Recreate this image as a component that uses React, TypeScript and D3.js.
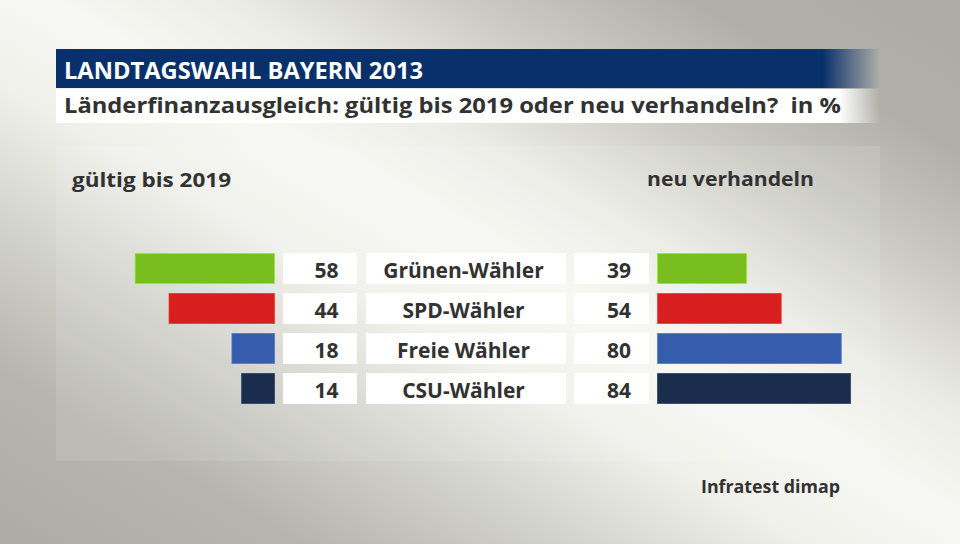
import React from "react";
import * as d3 from "d3";

const categories = ["Grünen-Wähler", "SPD-Wähler", "Freie Wähler", "CSU-Wähler"];
const gueltigValues = [58, 44, 18, 14];
const neuValues = [39, 54, 80, 84];
const barColors = ["#78be1e", "#d81f20", "#365cad", "#1a2d4c"];
const titleText = "LANDTAGSWAHL BAYERN 2013";
const subtitleText = "Länderfinanzausgleich: gültig bis 2019 oder neu verhandeln?  in %";
const leftHeader = "gültig bis 2019";
const rightHeader = "neu verhandeln";
const sourceText = "Infratest dimap";

const W = 960;
const H = 544;
const FONT = "'Open Sans', 'DejaVu Sans', sans-serif";
const TEXT = "#323232";

export default function App() {
  const y = d3
    .scaleBand<number>()
    .domain(d3.range(categories.length))
    .range([253, 404])
    .paddingInner(9 / 40)
    .paddingOuter(0);
  const bh = y.bandwidth();

  const xLeft = d3.scaleLinear().domain([0, 100]).range([0, 242]);
  const xRight = d3.scaleLinear().domain([0, 100]).range([0, 231]);
  const leftEdge = 275;
  const rightStart = 657;

  return (
    <svg
      width={W}
      height={H}
      viewBox={`0 0 ${W} ${H}`}
      style={{ position: "fixed", left: 0, top: 0, display: "block" }}
      fontFamily={FONT}
    >
      <defs>
        <linearGradient id="bg" gradientUnits="userSpaceOnUse" x1={246} y1={684} x2={714} y2={-140}>
          <stop offset="0" stopColor="#acaca4" />
          <stop offset="0.16" stopColor="#b6b6ae" />
          <stop offset="0.3" stopColor="#d4d4ce" />
          <stop offset="0.42" stopColor="#f0f0eb" />
          <stop offset="0.52" stopColor="#f7f8f3" />
          <stop offset="0.62" stopColor="#ececE6" />
          <stop offset="0.74" stopColor="#cbcbc4" />
          <stop offset="0.86" stopColor="#b0b0a8" />
          <stop offset="1" stopColor="#acaca4" />
        </linearGradient>
        <linearGradient id="titleFade" x1="0" y1="0" x2="1" y2="0">
          <stop offset="0" stopColor="#08306b" />
          <stop offset="0.93" stopColor="#08306b" />
          <stop offset="1" stopColor="#08306b" stopOpacity="0" />
        </linearGradient>
        <linearGradient id="subFade" x1="0" y1="0" x2="1" y2="0">
          <stop offset="0" stopColor="#ffffff" />
          <stop offset="0.95" stopColor="#ffffff" />
          <stop offset="1" stopColor="#ffffff" stopOpacity="0" />
        </linearGradient>
      </defs>

      <rect x={0} y={0} width={W} height={H} fill="url(#bg)" />
      <rect x={56} y={146} width={824} height={315} fill="#ffffff" opacity={0.1} />

      <rect x={56} y={49} width={824} height={39} fill="url(#titleFade)" />
      <text x={64} y={79} fill="#ffffff" fontSize={24} fontWeight={700} textLength={359} lengthAdjust="spacingAndGlyphs">
        {titleText}
      </text>

      <rect x={56} y={89} width={824} height={34} fill="url(#subFade)" />
      <text
        x={64}
        y={113}
        fill={TEXT}
        fontSize={22}
        fontWeight={700}
        textLength={777}
        lengthAdjust="spacingAndGlyphs"
        style={{ whiteSpace: "pre" }}
      >
        {subtitleText}
      </text>

      <text x={72} y={187} fill={TEXT} fontSize={20} fontWeight={700} textLength={159} lengthAdjust="spacingAndGlyphs">
        {leftHeader}
      </text>
      <text x={814} y={186} fill={TEXT} fontSize={20} fontWeight={700} textAnchor="end" textLength={167} lengthAdjust="spacingAndGlyphs">
        {rightHeader}
      </text>

      {categories.map((c, i) => {
        const top = y(i)!;
        const col = barColors[i];
        const stroke = d3.color(col)!.brighter(0.6).formatHex();
        const wl = xLeft(gueltigValues[i]);
        const wr = xRight(neuValues[i]);
        return (
          <g key={c}>
            <rect x={leftEdge - wl + 0.5} y={top + 0.5} width={wl - 1} height={bh - 1} fill={col} stroke={stroke} strokeOpacity={0.7} strokeWidth={1} />
            <rect x={283} y={top} width={74} height={bh} fill="#ffffff" />
            <text x={338.5} y={top + 25} fill={TEXT} fontSize={21} fontWeight={700} textAnchor="end">
              {gueltigValues[i]}
            </text>
            <rect x={366} y={top} width={200} height={bh} fill="#ffffff" />
            <text x={463.5} y={top + 25} fill={TEXT} fontSize={21} fontWeight={700} textAnchor="middle">
              {c}
            </text>
            <rect x={574} y={top} width={75} height={bh} fill="#ffffff" />
            <text x={631} y={top + 25} fill={TEXT} fontSize={21} fontWeight={700} textAnchor="end">
              {neuValues[i]}
            </text>
            <rect x={rightStart + 0.5} y={top + 0.5} width={wr - 1} height={bh - 1} fill={col} stroke={stroke} strokeOpacity={0.7} strokeWidth={1} />
          </g>
        );
      })}

      <text x={840} y={493} fill={TEXT} fontSize={18} fontWeight={700} textAnchor="end" textLength={139} lengthAdjust="spacingAndGlyphs">
        {sourceText}
      </text>
    </svg>
  );
}
